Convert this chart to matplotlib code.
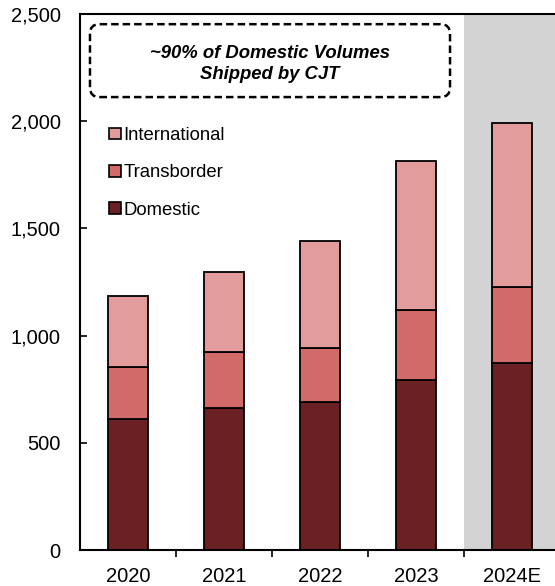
import matplotlib.pyplot as plt
from matplotlib.patches import FancyBboxPatch, Patch
import numpy as np

plt.rcParams['font.family'] = ['Liberation Sans', 'DejaVu Sans']

years = ['2020', '2021', '2022', '2023', '2024E']
domestic = [611, 661, 689, 793, 874]
transborder = [244, 261, 253, 325, 353]
international = [331, 376, 499, 696, 763]

colors = {'Domestic': '#6B2023', 'Transborder': '#D36A6A', 'International': '#E39C9C'}

fig = plt.figure(figsize=(5.55, 5.86), dpi=100)
ax = fig.add_axes([80 / 555, 36 / 586, 475 / 555, 536 / 586])

x = np.arange(len(years))
dom = np.array(domestic)
trb = np.array(transborder)
intl = np.array(international)

# shaded estimate year
ax.axvspan(3.5, 5, color='#D3D3D3', zorder=0, lw=0)

bw = 0.41
ax.bar(x, dom, bw, color=colors['Domestic'], edgecolor='black', linewidth=1.3, zorder=2)
ax.bar(x, trb, bw, bottom=dom, color=colors['Transborder'], edgecolor='black', linewidth=1.3, zorder=2)
ax.bar(x, intl, bw, bottom=dom + trb, color=colors['International'], edgecolor='black', linewidth=1.3, zorder=2)

ax.set_xlim(-0.5, -0.5 + 475 / 96)
ax.set_ylim(0, 2500)
ax.set_yticks(range(0, 2501, 500))
ax.set_yticklabels([f'{v:,}' for v in range(0, 2501, 500)], fontsize=14.5)
ax.tick_params(axis='y', direction='in', length=5, width=1.2, pad=14)

ax.set_xticks(x)
ax.set_xticklabels(years, fontsize=14.5)
ax.tick_params(axis='x', length=0, pad=12)
ax.set_xticks(np.arange(0.5, 4, 1), minor=True)
ax.tick_params(axis='x', which='minor', direction='out', length=5, width=1.2)

for s in ['left', 'bottom', 'top']:
    ax.spines[s].set_linewidth(1.5)
ax.spines['right'].set_visible(False)

# legend
handles = [Patch(facecolor=colors[k], edgecolor='black', linewidth=1.2)
           for k in ['International', 'Transborder', 'Domestic']]
ax.legend(handles, ['International', 'Transborder', 'Domestic'], loc='upper left',
          bbox_to_anchor=(0.062, 0.789), frameon=False, fontsize=13.3,
          handlelength=0.6, handleheight=0.6, handletextpad=0.15, labelspacing=1.1,
          borderaxespad=0, borderpad=0)

# callout box
box = FancyBboxPatch((0.021, 0.845), 0.758, 0.136, transform=ax.transAxes,
                     boxstyle='round,pad=0,rounding_size=0.02', mutation_aspect=475 / 536,
                     facecolor='white', edgecolor='black', linewidth=1.8,
                     linestyle=(0, (3, 1.6)), zorder=3)
ax.add_patch(box)
ax.text(0.40, 0.906, '~90% of Domestic Volumes\nShipped by CJT', transform=ax.transAxes,
        ha='center', va='center', fontsize=13.3, fontweight='bold', fontstyle='italic',
        linespacing=1.3, zorder=4)

plt.savefig('out.png', dpi=100)
